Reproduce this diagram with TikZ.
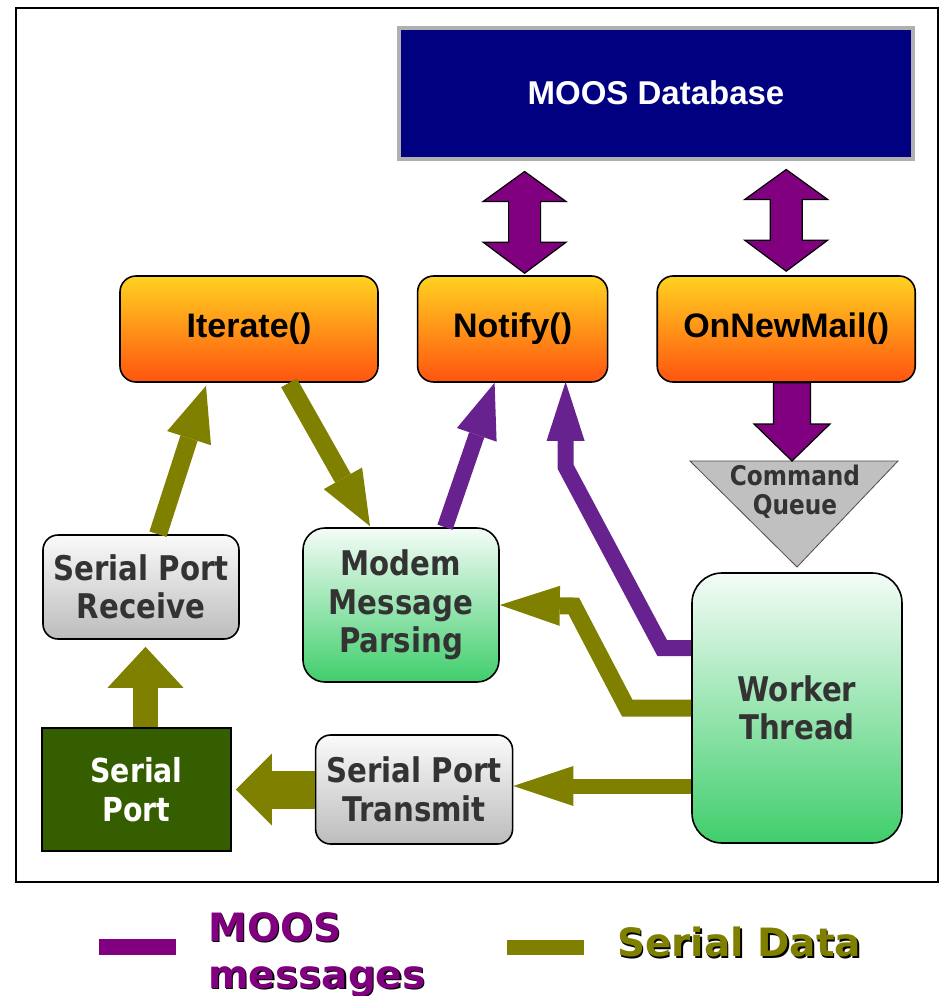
\documentclass[tikz,border=0pt]{standalone}
\usepackage{fontspec}
\setmainfont{Liberation Sans}
\newfontfamily\boxfont{DejaVu Sans}[FakeStretch=0.86]
\newfontfamily\keyfont{DejaVu Sans}
\usepackage{tikz}
\usetikzlibrary{positioning,calc,arrows.meta}

\definecolor{moosdark}{RGB}{128,0,128}
\definecolor{moosline}{RGB}{104,34,144}
\definecolor{serial}{RGB}{128,128,0}
\definecolor{dbblue}{RGB}{0,0,128}
\definecolor{dbrim}{RGB}{176,176,176}
\definecolor{methtop}{RGB}{255,210,32}
\definecolor{methbot}{RGB}{255,84,16}
\definecolor{greentop}{RGB}{244,252,247}
\definecolor{greenbot}{RGB}{64,206,108}
\definecolor{graytop}{RGB}{250,250,250}
\definecolor{graybot}{RGB}{188,188,188}
\definecolor{portgreen}{RGB}{53,94,0}
\definecolor{queuegray}{RGB}{192,192,192}
\definecolor{boxtext}{RGB}{51,51,51}

\tikzset{
    database/.style={rectangle,fill=dbblue,draw=dbrim,line width=4pt,minimum width=514pt,minimum height=131pt,text=white,font=\fontsize{33}{38}\selectfont\bfseries},
    method/.style={rectangle,rounded corners=16pt,draw=black,line width=1.6pt,top color=methtop,bottom color=methbot,minimum height=106pt,inner sep=0pt,font=\fontsize{34}{39}\selectfont\bfseries},
    greenbox/.style={rectangle,draw=black,line width=1.6pt,top color=greentop,bottom color=greenbot,text=boxtext,align=center,inner sep=0pt,font=\boxfont\bfseries\fontsize{34}{38.5}\selectfont},
    graybox/.style={rectangle,rounded corners=15pt,draw=black,line width=1.6pt,top color=graytop,bottom color=graybot,text=boxtext,align=center,inner sep=0pt,font=\boxfont\bfseries\fontsize{34}{38.5}\selectfont},
    portbox/.style={rectangle,fill=portgreen,draw=black,line width=1.6pt,minimum width=189pt,minimum height=123pt,text=white,align=center,inner sep=0pt,font=\boxfont\bfseries\fontsize{33}{39}\selectfont},
    queueshape/.style={fill=queuegray,draw=gray!60!black,line width=0.8pt},
    queuetext/.style={align=center,text=boxtext,inner sep=0pt,font=\boxfont\bfseries\fontsize{27}{29}\selectfont},
    serialflow/.style={draw=serial,line width=#1},
    serialflow/.default=16pt,
    moosflow/.style={draw=moosline,line width=#1},
    moosflow/.default=16pt,
    moosbody/.style={fill=moosdark,draw=black,line width=1.2pt,line join=miter},
    keytext/.style={align=left,inner sep=0pt,font=\keyfont\bfseries\fontsize{39}{47}\selectfont},
}

% fat two-headed arrow between two points on one vertical
\newcommand{\twoway}[2]{%
  \draw[moosbody] (#1) -- ++(41.5,30) -- ++(-25.5,0) -- ($(#2)+(16,-31)$) -- ++(25.5,0)
    -- (#2) -- ++(-41.5,-31) -- ++(25.5,0) -- ($(#1)+(-16,30)$) -- ++(-25.5,0) -- cycle;}
% text with a dark drop shadow
\newcommand{\shtext}[1]{\rlap{\kern1.5pt\raisebox{-1.5pt}{\color{black}#1}}#1}

\begin{document}
\begin{tikzpicture}[x=1pt,y=-1pt]
\useasboundingbox (0,0) rectangle (943,996);
\draw[line width=2.5pt] (16,8) rectangle (938,882);

% database and the three callbacks
\node[database] (db) at (656,93) {MOOS Database};
\node[method,minimum width=258pt] (iter) at (249,329) {Iterate()};
\node[method,minimum width=190pt] (notif) [right=38pt of iter] {Notify()};
\node[method,minimum width=258pt] (mail) [right=48pt of notif] {OnNewMail()};

% worker side
\node[greenbox,minimum width=196pt,minimum height=154pt,rounded corners=22pt] (parse) at (401,605) {Modem\\Message\\Parsing};
\node[greenbox,minimum width=210pt,minimum height=270pt,rounded corners=30pt] (worker) at (797,708) {Worker\\Thread};
\node[graybox,minimum width=196pt,minimum height=104pt] (rx) at (141,587) {Serial Port\\Receive};
\node[portbox] (sport) at (136.5,789.5) {Serial\\Port};
\node[graybox,minimum width=197pt,minimum height=109pt] (tx) [right=83pt of sport] {Serial Port\\Transmit};

% command queue
\draw[queueshape] (690,461) -- (898,461) -- (797,567) -- cycle;
\coordinate (qtop) at (792,461);
\node[queuetext] (cq) at (795,492) {Command\\Queue};

% moos traffic
\coordinate (dbn) at ($(db.south -| notif.north)+(12,11)$);
\coordinate (ntop) at ($(notif.north)+(12,-2)$);
\coordinate (dbm) at ($(db.south -| mail.north)+(0,9)$);
\coordinate (mtop) at ($(mail.north)+(0,-4)$);
\twoway{dbn}{ntop}
\twoway{dbm}{mtop}
\coordinate (mq) at (qtop |- mail.south);
\draw[moosbody] ($(mq)+(18.5,0)$) -- ($(qtop)+(18.5,-37)$) -- ++(19.5,0) -- (qtop)
    -- ++(-38,-37) -- ++(19.5,0) -- ($(mq)+(-18.5,0)$) -- cycle;
\draw[moosflow=16pt,-{Triangle[line width=0pt,length=55pt,width=42pt]}] ($(parse.north)+(44,0)$) -- ($(notif.south)+(-18,0)$);
\draw[moosflow=16pt,-{Triangle[line width=0pt,length=59pt,width=38pt]}] ($(worker.west)+(0,-60)$) -- ++(-29,0)
    -- ($(notif.south)+(53,84)$) -- ($(notif.south)+(53,-1)$);

% serial traffic
\draw[serialflow=18pt,-{Triangle[line width=0pt,length=55pt,width=46pt]}] ($(rx.north)+(17,0)$) -- ($(iter.south)+(-43,3)$);
\draw[serialflow=18pt,-{Triangle[line width=0pt,length=55pt,width=44pt]}] ($(iter.south)+(40,0)$) -- ($(parse.north)+(-31,-1)$);
\draw[serialflow=17pt,-{Triangle[line width=0pt,length=60pt,width=40pt]}] (worker.west) -- ++(-64,0)
    -- ($(parse.east)+(74,1)$) -- (parse.east);
\coordinate (w3) at ($(worker.west)+(0,78)$);
\draw[serialflow=15pt,-{Triangle[line width=0pt,length=60pt,width=40pt]}] (w3) -- (w3 -| tx.east);
\draw[serialflow=38pt,-{Triangle[line width=0pt,length=36pt,width=72pt]}] (tx.west) -- ($(sport.east)+(4,0)$);
\draw[serialflow=25pt,-{Triangle[line width=0pt,length=41pt,width=76pt]}] ($(sport.north)+(9,0)$) -- ($(rx.south)+(4.5,7)$);

% key
\draw[moosdark,line width=16pt] (99,947) -- (176,947);
\node[keytext,text=moosdark,anchor=north west] (keymoos) at (208,912) {\shtext{MOOS}\\\shtext{messages}};
\draw[serial,line width=15pt] (507,947.5) -- (584,947.5);
\node[keytext,text=serial,anchor=north west] (keyserial) at (617,927) {\shtext{Serial Data}};
\end{tikzpicture}
\end{document}
